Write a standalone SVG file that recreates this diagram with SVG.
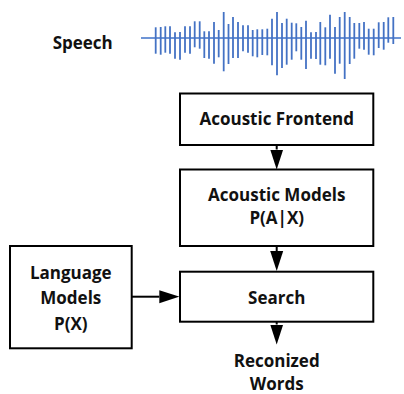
<svg xmlns="http://www.w3.org/2000/svg" width="404" height="394" viewBox="0 0 404 394">
  <style>
    .box { fill: #ffffff; stroke: #000000; stroke-width: 2; }
    .lbl { font-family: "Open Sans", "Noto Sans", "Liberation Sans", sans-serif; font-weight: bold; font-size: 17px; fill: #111111; text-anchor: middle; }
    .edge { stroke: #000000; stroke-width: 2; fill: none; }
    .wave-axis { stroke: #6f95d6; stroke-width: 2; }
    .wave-bar { stroke: #4472c4; stroke-width: 1.8; }
  </style>
  <defs>
    <marker id="head" markerUnits="userSpaceOnUse" markerWidth="20" markerHeight="14" refX="0" refY="6.5" orient="auto" viewBox="0 0 20 13">
      <path d="M0,0 L20,6.5 L0,13 z" fill="#000000"/>
    </marker>
  </defs>

  <!-- speech waveform -->
  <g id="speech">
    <text class="lbl" x="82.7" y="49.3">Speech</text>
    <line class="wave-axis" x1="141" y1="38" x2="401" y2="38"/>
    <g class="wave-bar">
      <line x1="155.7" y1="27.3" x2="155.7" y2="53.7"/>
      <line x1="160.7" y1="27" x2="160.7" y2="54.7"/>
      <line x1="165.3" y1="26.3" x2="165.3" y2="52.7"/>
      <line x1="170" y1="26.3" x2="170" y2="53.7"/>
      <line x1="175" y1="32.3" x2="175" y2="58.7"/>
      <line x1="180" y1="32" x2="180" y2="59.7"/>
      <line x1="185" y1="26.3" x2="185" y2="52.7"/>
      <line x1="190" y1="26.3" x2="190" y2="53.7"/>
      <line x1="194.7" y1="21.3" x2="194.7" y2="47.3"/>
      <line x1="199.7" y1="21.3" x2="199.7" y2="48.7"/>
      <line x1="204.3" y1="31.3" x2="204.3" y2="58"/>
      <line x1="209" y1="31.3" x2="209" y2="58.7"/>
      <line x1="214" y1="22" x2="214" y2="63.7"/>
      <line x1="218.7" y1="30" x2="218.7" y2="57.3"/>
      <line x1="223.7" y1="12" x2="223.7" y2="71.3"/>
      <line x1="228.5" y1="24" x2="228.5" y2="64"/>
      <line x1="233" y1="17" x2="233" y2="58"/>
      <line x1="238" y1="22" x2="238" y2="58"/>
      <line x1="243" y1="25.3" x2="243" y2="51.3"/>
      <line x1="248" y1="25.3" x2="248" y2="52.7"/>
      <line x1="252.7" y1="30" x2="252.7" y2="56.3"/>
      <line x1="257.3" y1="29.3" x2="257.3" y2="57.3"/>
      <line x1="262.3" y1="29.3" x2="262.3" y2="55"/>
      <line x1="267.3" y1="28.7" x2="267.3" y2="55.3"/>
      <line x1="272" y1="18.7" x2="272" y2="65.3"/>
      <line x1="277" y1="12" x2="277" y2="75.3"/>
      <line x1="282" y1="23" x2="282" y2="68"/>
      <line x1="286.7" y1="18.7" x2="286.7" y2="64.7"/>
      <line x1="291.7" y1="22.7" x2="291.7" y2="59.7"/>
      <line x1="296.3" y1="23.3" x2="296.3" y2="51.3"/>
      <line x1="301.3" y1="27" x2="301.3" y2="59.7"/>
      <line x1="306" y1="20.7" x2="306" y2="69"/>
      <line x1="311" y1="32.3" x2="311" y2="58.7"/>
      <line x1="316" y1="32" x2="316" y2="59"/>
      <line x1="320.3" y1="22" x2="320.3" y2="64.7"/>
      <line x1="325.3" y1="27.3" x2="325.3" y2="65.3"/>
      <line x1="330" y1="14.7" x2="330" y2="58.7"/>
      <line x1="335" y1="27" x2="335" y2="73.7"/>
      <line x1="339.7" y1="17" x2="339.7" y2="63.7"/>
      <line x1="344.7" y1="12" x2="344.7" y2="79"/>
      <line x1="349.7" y1="17" x2="349.7" y2="64"/>
      <line x1="354.3" y1="23" x2="354.3" y2="58.7"/>
      <line x1="359.3" y1="23" x2="359.3" y2="48.7"/>
      <line x1="364" y1="22" x2="364" y2="49.7"/>
      <line x1="368.7" y1="28.7" x2="368.7" y2="54.7"/>
      <line x1="373.7" y1="28.7" x2="373.7" y2="55.3"/>
      <line x1="378.7" y1="22.3" x2="378.7" y2="48"/>
      <line x1="383.7" y1="22" x2="383.7" y2="49.7"/>
      <line x1="388.3" y1="17.3" x2="388.3" y2="42.7"/>
      <line x1="393.3" y1="17" x2="393.3" y2="44"/>
    </g>
  </g>

  <!-- processing blocks -->
  <g id="acoustic-frontend">
    <rect class="box" x="180" y="93.5" width="193.3" height="51.5"/>
    <text class="lbl" x="276.7" y="125">Acoustic Frontend</text>
  </g>
  <g id="acoustic-models">
    <rect class="box" x="180" y="169.5" width="193.3" height="76.5"/>
    <text class="lbl" x="276.7" y="200.7">Acoustic Models</text>
    <text class="lbl" x="276.7" y="224.3">P(A|X)</text>
  </g>
  <g id="search">
    <rect class="box" x="180" y="271.7" width="193.3" height="50"/>
    <text class="lbl" x="276.7" y="304">Search</text>
  </g>
  <g id="language-models">
    <rect class="box" x="10" y="246" width="121.7" height="102.3"/>
    <text class="lbl" x="70.8" y="279">Language</text>
    <text class="lbl" x="70.8" y="304.3">Models</text>
    <text class="lbl" x="70.8" y="330.3">P(X)</text>
  </g>
  <g id="recognized-words">
    <text class="lbl" x="276.7" y="367">Reconized</text>
    <text class="lbl" x="276.7" y="389.5">Words</text>
  </g>

  <!-- connectors -->
  <g id="connectors">
    <line class="edge" x1="276.7" y1="145" x2="276.7" y2="149.5" marker-end="url(#head)"/>
    <line class="edge" x1="276.7" y1="246" x2="276.7" y2="251" marker-end="url(#head)"/>
    <line class="edge" x1="276.7" y1="321.7" x2="276.7" y2="324.5" marker-end="url(#head)"/>
    <line class="edge" x1="131.7" y1="296.7" x2="159.3" y2="296.7" marker-end="url(#head)"/>
  </g>
</svg>
